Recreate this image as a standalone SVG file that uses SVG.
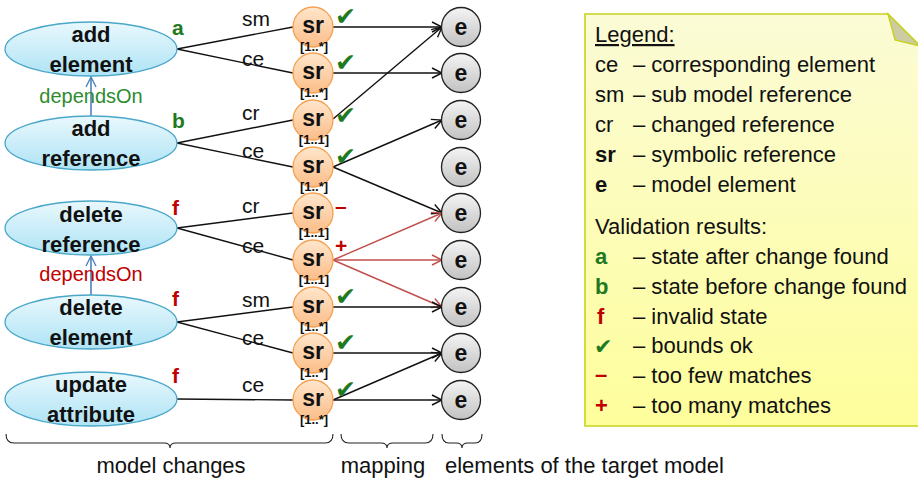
<svg xmlns="http://www.w3.org/2000/svg" width="918" height="479" viewBox="0 0 918 479">
  <defs>
    <linearGradient id="gChange" x1="0" y1="0" x2="0" y2="1">
      <stop offset="0" stop-color="#e9f8fd"/>
      <stop offset="1" stop-color="#aee3f5"/>
    </linearGradient>
    <linearGradient id="gSr" x1="0" y1="0" x2="0" y2="1">
      <stop offset="0" stop-color="#ffe6cc"/>
      <stop offset="1" stop-color="#fbbd88"/>
    </linearGradient>
    <linearGradient id="gElem" x1="0" y1="0" x2="0" y2="1">
      <stop offset="0" stop-color="#f4f4f4"/>
      <stop offset="1" stop-color="#c2c2c2"/>
    </linearGradient>
    <linearGradient id="gNote" x1="0" y1="0" x2="0" y2="1">
      <stop offset="0" stop-color="#fbfbd6"/>
      <stop offset="1" stop-color="#fefe9c"/>
    </linearGradient>
    <marker id="arrBlack" markerUnits="userSpaceOnUse" markerWidth="14" markerHeight="12" refX="11" refY="6" orient="auto">
      <path d="M1,1 L11,6 L1,11" fill="none" stroke="#111" stroke-width="1.4"/>
    </marker>
    <marker id="arrRed" markerUnits="userSpaceOnUse" markerWidth="14" markerHeight="12" refX="11" refY="6" orient="auto">
      <path d="M1,1 L11,6 L1,11" fill="none" stroke="#c0504d" stroke-width="1.4"/>
    </marker>
    <marker id="arrBlue" markerUnits="userSpaceOnUse" markerWidth="14" markerHeight="12" refX="11" refY="6" orient="auto">
      <path d="M1,1 L11,6 L1,11" fill="none" stroke="#4f81bd" stroke-width="1.4"/>
    </marker>
  </defs>
  <style>
    text { font-family: "Liberation Sans", Arial, sans-serif; fill: #111; }
    .change { fill: url(#gChange); stroke: #4aa7c8; stroke-width: 1.3; }
    .sr { fill: url(#gSr); stroke: #f5a04e; stroke-width: 1.3; }
    .el { fill: url(#gElem); stroke: #222; stroke-width: 1.3; }
    .ctext { font-size: 22px; font-weight: bold; text-anchor: middle; }
    .srt { font-size: 23px; font-weight: bold; text-anchor: middle; }
    .bound { font-size: 13px; font-weight: bold; text-anchor: middle; }
    .et { font-size: 23px; font-weight: bold; text-anchor: middle; }
    .lbl { font-size: 21px; }
    .res { font-size: 21px; font-weight: bold; }
    text.green { fill: #1f7a1f; }
    text.red { fill: #c00000; }
    text.depOk { fill: #2e8b2e; font-size: 20px; text-anchor: middle; }
    text.depBad { fill: #c00000; font-size: 20px; text-anchor: middle; }
    text.chk { font-family: "DejaVu Sans", sans-serif; font-size: 25px; fill: #1f7a1f; }
    .wire { stroke: #111; stroke-width: 1.4; fill: none; }
    .wireRed { stroke: #c0504d; stroke-width: 1.4; fill: none; }
    .dep { stroke: #4f81bd; stroke-width: 1.6; fill: none; }
    .leg { font-size: 22px; }
    .brace { stroke: #222; stroke-width: 1.1; fill: none; }
    .cap { font-size: 22px; }
  </style>

  <!-- legend note -->
  <g id="legend">
    <path d="M585,14 H888 L920,46 V426 H585 Z" fill="url(#gNote)" stroke="#c8d21e" stroke-width="1.6"/>
    <path d="M888,14 L895,40 L920,46 Z" fill="#cbcba4" stroke="#c8d21e" stroke-width="1.4"/>
    <text class="leg" x="595" y="42" text-decoration="underline">Legend:</text>
    <text class="leg" x="595" y="72">ce</text><text class="leg" x="633" y="72">– corresponding element</text>
    <text class="leg" x="595" y="102">sm</text><text class="leg" x="633" y="102">– sub model reference</text>
    <text class="leg" x="595" y="132">cr</text><text class="leg" x="633" y="132">– changed reference</text>
    <text class="leg" x="595" y="162" font-weight="bold">sr</text><text class="leg" x="633" y="162">– symbolic reference</text>
    <text class="leg" x="595" y="192" font-weight="bold">e</text><text class="leg" x="633" y="192">– model element</text>
    <text class="leg" x="595" y="234">Validation results:</text>
    <text class="leg green" x="595" y="264" font-weight="bold">a</text><text class="leg" x="633" y="264">– state after change found</text>
    <text class="leg green" x="595" y="294" font-weight="bold">b</text><text class="leg" x="633" y="294">– state before change found</text>
    <text class="leg red" x="597" y="324" font-weight="bold">f</text><text class="leg" x="633" y="324">– invalid state</text>
    <text class="chk" x="594" y="354" style="font-size:22px">✔</text><text class="leg" x="633" y="353">– bounds ok</text>
    <text class="leg red" x="595" y="382" font-weight="bold">–</text><text class="leg" x="633" y="383">– too few matches</text>
    <text class="leg red" x="595" y="413" font-weight="bold">+</text><text class="leg" x="633" y="413">– too many matches</text>
  </g>

  <!-- connectors -->
  <g id="connectors">
    <!-- model changes to symbolic references -->
    <line class="wire" x1="177" y1="49" x2="293" y2="27"/>
    <line class="wire" x1="177" y1="49" x2="293" y2="73"/>
    <line class="wire" x1="177" y1="143" x2="293" y2="120"/>
    <line class="wire" x1="177" y1="143" x2="293" y2="167"/>
    <line class="wire" x1="177" y1="228" x2="293" y2="213"/>
    <line class="wire" x1="177" y1="228" x2="293" y2="260"/>
    <line class="wire" x1="177" y1="322" x2="293" y2="307"/>
    <line class="wire" x1="177" y1="322" x2="293" y2="353"/>
    <line class="wire" x1="177" y1="399" x2="293" y2="400"/>
    <!-- symbolic references to target model elements -->
    <line class="wire" x1="333" y1="27" x2="442" y2="27" marker-end="url(#arrBlack)"/>
    <line class="wire" x1="333" y1="73" x2="442" y2="73" marker-end="url(#arrBlack)"/>
    <line class="wire" x1="333" y1="119" x2="442" y2="27" marker-end="url(#arrBlack)"/>
    <line class="wire" x1="333" y1="167" x2="442" y2="120" marker-end="url(#arrBlack)"/>
    <line class="wire" x1="333" y1="167" x2="442" y2="213" marker-end="url(#arrBlack)"/>
    <line class="wireRed" x1="333" y1="260" x2="442" y2="213" marker-end="url(#arrRed)"/>
    <line class="wireRed" x1="333" y1="260" x2="442" y2="260" marker-end="url(#arrRed)"/>
    <line class="wireRed" x1="333" y1="260" x2="442" y2="307" marker-end="url(#arrRed)"/>
    <line class="wire" x1="333" y1="307" x2="442" y2="307" marker-end="url(#arrBlack)"/>
    <line class="wire" x1="333" y1="353" x2="442" y2="353" marker-end="url(#arrBlack)"/>
    <line class="wire" x1="333" y1="400" x2="442" y2="353" marker-end="url(#arrBlack)"/>
    <line class="wire" x1="333" y1="400" x2="442" y2="400" marker-end="url(#arrBlack)"/>
    <!-- dependencies -->
    <line class="dep" x1="91" y1="116" x2="91" y2="77" marker-end="url(#arrBlue)"/>
    <line class="dep" x1="91" y1="295" x2="91" y2="256" marker-end="url(#arrBlue)"/>
    <!-- edge labels -->
    <text class="lbl" x="242" y="26">sm</text>
    <text class="lbl" x="242" y="66">ce</text>
    <text class="lbl" x="242" y="120">cr</text>
    <text class="lbl" x="242" y="158">ce</text>
    <text class="lbl" x="242" y="213">cr</text>
    <text class="lbl" x="242" y="253">ce</text>
    <text class="lbl" x="242" y="307">sm</text>
    <text class="lbl" x="242" y="345">ce</text>
    <text class="lbl" x="242" y="392">ce</text>
    <text class="depOk" x="91" y="103">dependsOn</text>
    <text class="depBad" x="91" y="281">dependsOn</text>
  </g>

  <!-- model changes -->
  <g id="addElement">
    <ellipse class="change" cx="91" cy="49" rx="86" ry="27"/>
    <text class="ctext" x="91" y="42">add</text>
    <text class="ctext" x="91" y="72">element</text>
    <text class="res green" x="172" y="35">a</text>
  </g>
  <g id="addReference">
    <ellipse class="change" cx="91" cy="143" rx="86" ry="27"/>
    <text class="ctext" x="91" y="136">add</text>
    <text class="ctext" x="91" y="166">reference</text>
    <text class="res green" x="172" y="128">b</text>
  </g>
  <g id="deleteReference">
    <ellipse class="change" cx="91" cy="228" rx="86" ry="27"/>
    <text class="ctext" x="91" y="222">delete</text>
    <text class="ctext" x="91" y="252">reference</text>
    <text class="res red" x="172" y="215">f</text>
  </g>
  <g id="deleteElement">
    <ellipse class="change" cx="91" cy="322" rx="86" ry="27"/>
    <text class="ctext" x="91" y="315">delete</text>
    <text class="ctext" x="91" y="345">element</text>
    <text class="res red" x="172" y="306">f</text>
  </g>
  <g id="updateAttribute">
    <ellipse class="change" cx="91" cy="399" rx="86" ry="27"/>
    <text class="ctext" x="91" y="392">update</text>
    <text class="ctext" x="91" y="422">attribute</text>
    <text class="res red" x="172" y="383">f</text>
  </g>

  <!-- symbolic references -->
  <g id="sr1"><circle class="sr" cx="313" cy="27" r="20"/><text class="srt" x="313" y="33">sr</text><text class="bound" x="314" y="51">[1..*]</text><text class="chk" x="335" y="25">✔</text></g>
  <g id="sr2"><circle class="sr" cx="313" cy="73" r="20"/><text class="srt" x="313" y="79">sr</text><text class="bound" x="314" y="97">[1..*]</text><text class="chk" x="335" y="71">✔</text></g>
  <g id="sr3"><circle class="sr" cx="313" cy="120" r="20"/><text class="srt" x="313" y="126">sr</text><text class="bound" x="314" y="144">[1..1]</text><text class="chk" x="335" y="124">✔</text></g>
  <g id="sr4"><circle class="sr" cx="313" cy="167" r="20"/><text class="srt" x="313" y="173">sr</text><text class="bound" x="314" y="191">[1..*]</text><text class="chk" x="335" y="165">✔</text></g>
  <g id="sr5"><circle class="sr" cx="313" cy="213" r="20"/><text class="srt" x="313" y="219">sr</text><text class="bound" x="314" y="237">[1..1]</text><text class="res red" x="335" y="213">–</text></g>
  <g id="sr6"><circle class="sr" cx="313" cy="260" r="20"/><text class="srt" x="313" y="266">sr</text><text class="bound" x="314" y="284">[1..1]</text><text class="res red" x="335" y="253">+</text></g>
  <g id="sr7"><circle class="sr" cx="313" cy="307" r="20"/><text class="srt" x="313" y="313">sr</text><text class="bound" x="314" y="331">[1..*]</text><text class="chk" x="335" y="305">✔</text></g>
  <g id="sr8"><circle class="sr" cx="313" cy="353" r="20"/><text class="srt" x="313" y="359">sr</text><text class="bound" x="314" y="377">[1..*]</text><text class="chk" x="335" y="351">✔</text></g>
  <g id="sr9"><circle class="sr" cx="313" cy="400" r="20"/><text class="srt" x="313" y="406">sr</text><text class="bound" x="314" y="424">[1..*]</text><text class="chk" x="335" y="398">✔</text></g>

  <!-- target model elements -->
  <g id="e1"><circle class="el" cx="461" cy="27" r="19.5"/><text class="et" x="461" y="35">e</text></g>
  <g id="e2"><circle class="el" cx="461" cy="73" r="19.5"/><text class="et" x="461" y="81">e</text></g>
  <g id="e3"><circle class="el" cx="461" cy="120" r="19.5"/><text class="et" x="461" y="128">e</text></g>
  <g id="e4"><circle class="el" cx="461" cy="167" r="19.5"/><text class="et" x="461" y="175">e</text></g>
  <g id="e5"><circle class="el" cx="461" cy="213" r="19.5"/><text class="et" x="461" y="221">e</text></g>
  <g id="e6"><circle class="el" cx="461" cy="260" r="19.5"/><text class="et" x="461" y="268">e</text></g>
  <g id="e7"><circle class="el" cx="461" cy="307" r="19.5"/><text class="et" x="461" y="315">e</text></g>
  <g id="e8"><circle class="el" cx="461" cy="353" r="19.5"/><text class="et" x="461" y="361">e</text></g>
  <g id="e9"><circle class="el" cx="461" cy="400" r="19.5"/><text class="et" x="461" y="408">e</text></g>

  <!-- column braces and captions -->
  <g id="captions">
    <path class="brace" d="M6,434 Q6,443 14,443 H164 Q170,443 170,448 Q170,443 176,443 H325 Q333,443 333,434"/>
    <path class="brace" d="M341,434 Q341,443 349,443 H381 Q387,443 387,448 Q387,443 393,443 H425 Q433,443 433,434"/>
    <path class="brace" d="M442,434 Q442,443 449,443 H456 Q462,443 462,448 Q462,443 468,443 H475 Q482,443 482,434"/>
    <text class="cap" x="171" y="473" text-anchor="middle">model changes</text>
    <text class="cap" x="383" y="473" text-anchor="middle">mapping</text>
    <text class="cap" x="445" y="473">elements of the target model</text>
  </g>
</svg>
